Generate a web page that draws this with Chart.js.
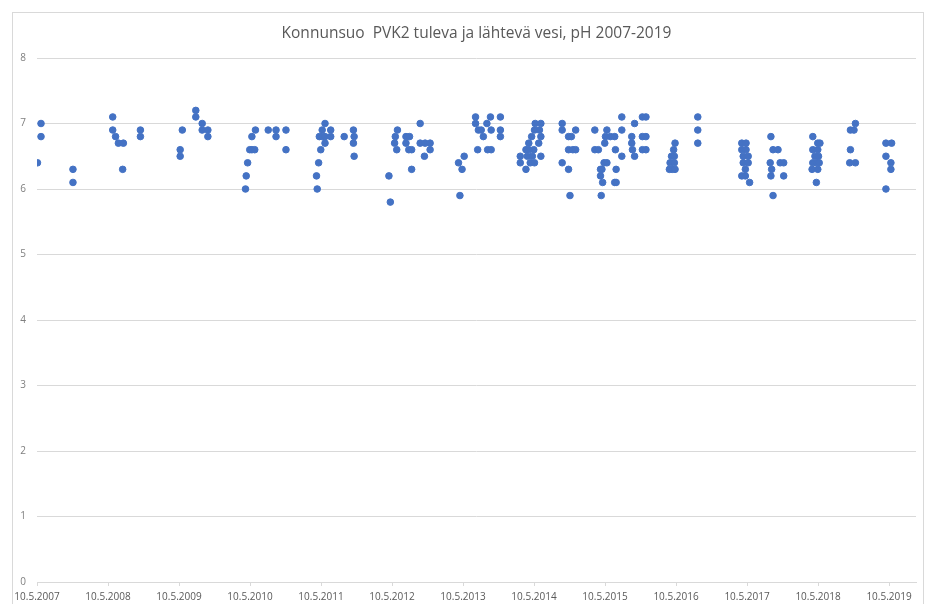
<!DOCTYPE html>
<html>
<head>
<meta charset="utf-8">
<script src="https://cdn.jsdelivr.net/npm/chart.js@4.4.1/dist/chart.umd.min.js"></script>
<style>
    body { margin: 0; background: #ffffff; }
    #wrap { position: relative; width: 928px; height: 604px; }
</style>
</head>
<body>
<div id="wrap"><canvas id="phChart"></canvas></div>
<script>
// Sampling dates as decimal years, and the matching pH readings
const sampleYears = [
    2007.36, 2007.41, 2007.41, 2007.86, 2007.86,
    2008.42, 2008.42, 2008.46, 2008.50, 2008.57, 2008.56, 2008.81, 2008.81,
    2009.37, 2009.37, 2009.40, 2009.59, 2009.59, 2009.68, 2009.68, 2009.76, 2009.76,
    2010.29, 2010.30, 2010.32, 2010.35, 2010.38, 2010.42, 2010.38, 2010.43,
    2010.61, 2010.72, 2010.72, 2010.86, 2010.86,
    2011.30, 2011.29, 2011.32, 2011.35, 2011.33, 2011.37, 2011.37, 2011.41, 2011.41, 2011.41,
    2011.49, 2011.49, 2011.68, 2011.81, 2011.82, 2011.81, 2011.82,
    2012.31, 2012.33, 2012.43, 2012.40, 2012.39, 2012.42, 2012.55, 2012.60, 2012.55,
    2012.59, 2012.63, 2012.63, 2012.75, 2012.75, 2012.82, 2012.89, 2012.89, 2012.81,
    2013.31, 2013.29, 2013.34, 2013.37, 2013.53, 2013.53, 2013.57, 2013.56, 2013.64,
    2013.69, 2013.74, 2013.75, 2013.70, 2013.75, 2013.88, 2013.88, 2013.88, 2013.61,
    2014.16, 2014.16, 2014.24, 2014.24, 2014.28, 2014.26, 2014.30, 2014.33, 2014.35,
    2014.32, 2014.36, 2014.37, 2014.45, 2014.43, 2014.45, 2014.42, 2014.45, 2014.36, 2014.28,
    2014.75, 2014.75, 2014.75, 2014.84, 2014.88, 2014.94, 2014.84, 2014.90, 2014.94, 2014.84, 2014.86,
    2015.21, 2015.21, 2015.26, 2015.38, 2015.36, 2015.43, 2015.49, 2015.35, 2015.38, 2015.34,
    2015.29, 2015.31, 2015.29, 2015.32, 2015.49, 2015.51, 2015.30, 2015.50, 2015.51,
    2015.59, 2015.59, 2015.59,
    2015.77, 2015.73, 2015.73, 2015.74, 2015.77, 2015.88, 2015.93, 2015.88, 2015.93, 2015.88, 2015.93,
    2016.34, 2016.32, 2016.29, 2016.33, 2016.27, 2016.33, 2016.26, 2016.30, 2016.34,
    2016.66, 2016.66, 2016.66,
    2017.28, 2017.34, 2017.28, 2017.34, 2017.30, 2017.37, 2017.30, 2017.37, 2017.33, 2017.28, 2017.33, 2017.39,
    2017.69, 2017.72, 2017.79, 2017.68, 2017.82, 2017.87, 2017.70, 2017.69, 2017.87, 2017.72,
    2018.28, 2018.35, 2018.38, 2018.28, 2018.35, 2018.31, 2018.36, 2018.28, 2018.34, 2018.37,
    2018.27, 2018.35, 2018.33,
    2018.88, 2018.81, 2018.86, 2018.81, 2018.80, 2018.88,
    2019.31, 2019.39, 2019.31, 2019.38, 2019.38, 2019.31,
];
const phValues = [
    6.4, 7.0, 6.8, 6.3, 6.1,
    7.1, 6.9, 6.8, 6.7, 6.7, 6.3, 6.9, 6.8,
    6.6, 6.5, 6.9, 7.2, 7.1, 7.0, 6.9, 6.9, 6.8,
    6.0, 6.2, 6.4, 6.6, 6.6, 6.6, 6.8, 6.9,
    6.9, 6.9, 6.8, 6.9, 6.6,
    6.0, 6.2, 6.4, 6.6, 6.8, 6.8, 6.9, 7.0, 6.8, 6.7,
    6.9, 6.8, 6.8, 6.9, 6.8, 6.7, 6.5,
    6.2, 5.8, 6.9, 6.8, 6.7, 6.6, 6.8, 6.8, 6.7,
    6.6, 6.6, 6.3, 7.0, 6.7, 6.7, 6.7, 6.6, 6.5,
    5.9, 6.4, 6.3, 6.5, 7.1, 7.0, 6.9, 6.6, 6.8,
    7.0, 7.1, 6.9, 6.6, 6.6, 7.1, 6.9, 6.8, 6.9,
    6.5, 6.4, 6.3, 6.6, 6.7, 6.5, 6.4, 6.5, 6.6,
    6.8, 6.9, 7.0, 7.0, 6.9, 6.8, 6.7, 6.5, 6.4, 6.6,
    7.0, 6.9, 6.4, 6.8, 6.8, 6.9, 6.6, 6.6, 6.6, 6.3, 5.9,
    6.9, 6.6, 6.6, 6.9, 6.8, 6.8, 6.8, 6.7, 6.4, 6.4,
    6.3, 6.3, 6.2, 6.1, 6.1, 6.1, 5.9, 6.6, 6.3,
    7.1, 6.9, 6.5,
    7.0, 6.8, 6.7, 6.6, 6.5, 7.1, 7.1, 6.8, 6.8, 6.6, 6.6,
    6.7, 6.6, 6.5, 6.5, 6.4, 6.4, 6.3, 6.3, 6.3,
    7.1, 6.9, 6.7,
    6.7, 6.7, 6.6, 6.6, 6.5, 6.5, 6.4, 6.4, 6.3, 6.2, 6.2, 6.1,
    6.8, 6.6, 6.6, 6.4, 6.4, 6.4, 6.3, 6.2, 6.2, 5.9,
    6.8, 6.7, 6.7, 6.6, 6.6, 6.5, 6.5, 6.4, 6.4, 6.4,
    6.3, 6.3, 6.1,
    7.0, 6.9, 6.9, 6.6, 6.4, 6.4,
    6.7, 6.7, 6.5, 6.4, 6.3, 6.0,
];
const tickYears = [2007, 2008, 2009, 2010, 2011, 2012, 2013, 2014, 2015, 2016, 2017, 2018, 2019];
const tickLabels = tickYears.map((y) => "10.5." + y);
const chartTitle = "Konnunsuo  PVK2 tuleva ja lähtevä vesi, pH 2007-2019";

const mayTenth = 129 / 365; // 10 May as a fraction of the year
const xMin = tickYears[0] + mayTenth;
const xMax = xMin + 12.38;

const points = sampleYears.map((x, i) => ({ x: x, y: phValues[i] }));

const framePlugin = {
    id: "frame",
    beforeDraw(chart) {
        const ctx = chart.ctx;
        ctx.save();
        ctx.strokeStyle = "#d9d9d9";
        ctx.lineWidth = 1;
        ctx.strokeRect(12.5, 12.5, 911, 620);
        ctx.restore();
    },
};

document.addEventListener("DOMContentLoaded", () => {
    const ctx = document.getElementById("phChart").getContext("2d");
    new Chart(ctx, {
        type: "scatter",
        data: {
            datasets: [
                {
                    label: "pH",
                    data: points,
                    backgroundColor: "#4472C4",
                    borderColor: "#4472C4",
                    borderWidth: 1,
                    pointRadius: 3.3,
                },
            ],
        },
        plugins: [framePlugin],
        options: {
            responsive: true,
            maintainAspectRatio: false,
            animation: false,
            layout: {
                padding: { left: 0, right: 12, top: 0, bottom: 0 },
            },
            plugins: {
                legend: { display: false },
                tooltip: { enabled: false },
                title: {
                    display: true,
                    fullSize: false,
                    text: chartTitle,
                    color: "#595959",
                    font: { family: "Open Sans", size: 15.5, weight: "normal" },
                    padding: { top: 24, bottom: 15.4 },
                },
            },
            scales: {
                x: {
                    type: "linear",
                    min: xMin,
                    max: xMax,
                    afterFit: (scale) => {
                        scale.height = 22;
                    },
                    afterBuildTicks: (scale) => {
                        scale.ticks = tickYears.map((y) => ({ value: y + mayTenth }));
                    },
                    grid: {
                        drawOnChartArea: false,
                        drawTicks: true,
                        tickLength: 4,
                        color: "#d9d9d9",
                    },
                    border: { display: true, color: "#d9d9d9" },
                    ticks: {
                        autoSkip: false,
                        maxRotation: 0,
                        padding: 5,
                        color: "#595959",
                        font: { family: "Open Sans", size: 10 },
                        callback: (value, index) => tickLabels[index],
                    },
                },
                y: {
                    min: 0,
                    max: 8,
                    afterFit: (scale) => {
                        scale.width = 37;
                    },
                    grid: {
                        color: "#d9d9d9",
                        drawTicks: false,
                    },
                    border: { display: false },
                    ticks: {
                        stepSize: 1,
                        padding: 11,
                        color: "#7f7f7f",
                        font: { family: "Open Sans", size: 10 },
                    },
                },
            },
        },
    });
});
</script>
</body>
</html>
